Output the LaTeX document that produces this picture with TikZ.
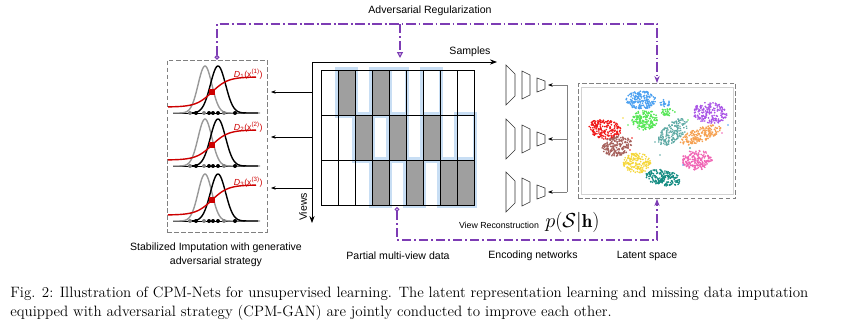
\documentclass[tikz,border=0pt]{standalone}
\usepackage{amsmath}
\usepackage{amsfonts}
\usepackage{fontspec}
\newfontfamily\arialfont{Liberation Sans}
\usepackage{tikz}
\usetikzlibrary{arrows.meta}
\definecolor{advpurple}{RGB}{125,60,180}
\definecolor{advred}{RGB}{205,0,0}
\definecolor{glowblue}{RGB}{200,222,244}
\definecolor{cRed}{RGB}{240,25,25}
\definecolor{cBrown}{RGB}{165,95,90}
\definecolor{cBlue}{RGB}{75,160,240}
\definecolor{cGreen}{RGB}{85,230,85}
\definecolor{cPurple}{RGB}{170,85,230}
\definecolor{cSage}{RGB}{95,170,165}
\definecolor{cOrange}{RGB}{245,160,80}
\definecolor{cPink}{RGB}{240,100,180}
\definecolor{cYellow}{RGB}{245,215,60}
\definecolor{cTeal}{RGB}{20,140,130}
\begin{document}
\begin{tikzpicture}[x=0.03cm, y=-0.03cm, line width=0.6pt,
    lbl/.style={font=\arialfont\fontsize{9}{12}\selectfont, inner sep=0pt},
    adv/.style={advpurple, line width=1pt, dash pattern=on 8pt off 2.5pt on 1.5pt off 2.5pt},
    dashbox/.style={draw=gray, line width=0.8pt, dash pattern=on 4pt off 2pt, inner sep=0pt}]
\useasboundingbox (0,0) rectangle (864,329);

% imputation panels
\node[dashbox, minimum width=3cm, minimum height=5.16cm] (impbox) at (217,146) {};
\foreach \by/\k in {113/1,166/2,221/3}{
    \draw[line width=0.8pt] (173,\by) -- (245,\by);
    \draw[gray!80, line width=1.2pt] plot[domain=-32:55, samples=80] ({205+\x}, {\by-47*exp(-\x*\x/95)});
    \draw[black, line width=1.2pt] plot[domain=-30:40, samples=80] ({218+\x}, {\by-47*exp(-\x*\x/115)});
    \draw[advred, line width=1.2pt] plot[domain=-44:44, samples=40] ({212+\x}, {\by-21-15*tanh(\x/16)});
    \fill[advred] (209,{\by-24}) rectangle ++(6,6);
    \foreach \dx/\dc in {190/gray,196/black,204/gray,209/black,213/black,218/black,224/gray,235/black}
        \fill[\dc] (\dx,\by) circle (1.7pt);
    \node[lbl, font=\arialfont\fontsize{7.5}{9}\selectfont, text=advred, anchor=east] (dlab\k) at (263,{\by-39})
        {\textit{D}\textsubscript{\k}(x\textsuperscript{(\k)})};
}

% axes
\coordinate (origin) at (312,62);
\coordinate (sampend) at (497,62);
\coordinate (viewend) at (312,223);
\draw[-{Stealth[length=6pt]}, line width=0.8pt] (origin) -- (sampend);
\draw[-{Stealth[length=6pt]}, line width=0.8pt] (origin) -- (viewend);
\node[lbl] (samples) at (470,52) {Samples};
\node[lbl, rotate=90] (views) at (303,207) {Views};
\foreach \ay [count=\k] in {92,137,188}{
    \coordinate (vw\k) at (312,\ay);
    \draw[-{Stealth[length=4pt]}] (vw\k) -- ([xshift=3pt]vw\k -| impbox.east);
}

% multi-view data
\foreach \r/\c in {1/2,1/4,1/5,1/7,2/3,2/5,2/7,2/9,3/4,3/6,3/8,3/9}
    \draw[glowblue, line width=3pt] ({320+17*(\c-1)},{69+45*(\r-1)}) rectangle ++(19,47);
\foreach \r/\c in {1/2,1/4,2/3,2/5,2/7,3/4,3/6,3/8,3/9}
    \fill[gray!75] ({321+17*(\c-1)},{70+45*(\r-1)}) rectangle ++(17,45);
\foreach \r in {1,2,3}
    \foreach \c in {1,...,9}
        \draw ({321+17*(\c-1)},{70+45*(\r-1)}) rectangle ++(17,45);

% encoders
\foreach \ey [count=\k] in {85,139,192}{
    \draw[black!80, line width=0.5pt] (506,\ey-20) -- (506,\ey+20) -- (515,\ey+11) -- (515,\ey-11) -- cycle;
    \draw[black!80, line width=0.5pt] (522,\ey-14) -- (522,\ey+14) -- (530,\ey+10) -- (530,\ey-10) -- cycle;
    \draw[black!80, line width=0.5pt] (537,\ey-7) -- (537,\ey+7) -- (545,\ey+4) -- (545,\ey-4) -- cycle;
    \coordinate (enc\k) at (548,\ey);
    \coordinate (bus\k) at (567,\ey);
    \draw[gray, -{Stealth[black, length=4pt]}] (bus\k) -- (enc\k);
}
\draw[gray] (bus1) -- (bus3);

% latent space
\node[dashbox, minimum width=4.73cm, minimum height=3.45cm] (latbox) at (657,141) {};
\draw[gray!35, line width=0.8pt] (581.7,87.3) rectangle (733,194);
\pgfmathsetseed{7}
\foreach \cx/\cy/\rx/\ry/\rot/\col/\n in {641/100/15/9/0/cBlue/180, 665/103/5/4/0/cBlue/20,
        645/120/13/10/0/cGreen/170, 668/112/7/4/0/cGreen/30, 710/113/17/11/-5/cPurple/200,
        605/129/16/10/-10/cRed/200, 617/146/15/10/10/cBrown/190, 673/132/18/9/40/cSage/190,
        700/135/22/7/20/cOrange/180, 697/160/15/10/0/cPink/190, 637/163/14/10/0/cYellow/170,
        663/178/18/8/-10/cTeal/190}{
    \begin{scope}[shift={(\cx,\cy)}, rotate=\rot]
        \foreach \i in {1,...,\n}{
            \pgfmathsetmacro\ang{360*rnd}
            \pgfmathsetmacro\rad{sqrt(rnd)}
            \fill[\col] ({\rad*\rx*cos(\ang)},{\rad*\ry*sin(\ang)}) circle (0.8pt);
        }
    \end{scope}
}
\foreach \sx/\sy/\sc in {623/118/cYellow,628/125/cGreen,632/138/cRed,655/142/cSage,690/148/cTeal,
        683/165/cBlue,660/155/cSage,688/120/cGreen,722/133/cPink,728/125/cBlue,630/150/cRed}
    \fill[\sc] (\sx,\sy) circle (0.8pt);

% adversarial regularization
\coordinate (advmid) at (400,24);
\coordinate (gridtop) at (400,58);
\node[lbl] (title) at (430,11) {Adversarial Regularization};
\draw[adv, {Circle[open, length=4pt]}-{Stealth[length=6pt]}] (impbox.north) |- (advmid) -| (latbox.north);
\draw[adv, -{Triangle[open, length=5pt, width=5pt]}] (advmid) -- (gridtop);
\coordinate (recstart) at (397,207);
\coordinate (recbot) at (397,240);
\draw[adv, {Circle[open, length=4pt]}-{Stealth[length=6pt]}] (recstart) -- (recbot) -| (latbox.south);

% labels
\node[lbl, font=\arialfont\fontsize{7.5}{9}\selectfont] (viewrec) at (499,225) {View Reconstruction};
\node[anchor=west, inner sep=0pt] (psh) at (545,222) {\fontsize{16}{18}\selectfont $p(\mathcal{S}|\mathbf{h})$};
\node[lbl, align=center] (implab) at (216,255) {Stabilized Imputation with generative\\adversarial strategy};
\node[lbl] (gridlab) at (398,256) {Partial multi-view data};
\node[lbl] (enclab) at (533,256) {Encoding networks};
\node[lbl] (latlab) at (647,256) {Latent space};
\node[anchor=north west, align=left, inner sep=0pt, font=\fontsize{12.8}{15.5}\selectfont] (caption) at (10,287)
    {Fig. 2: Illustration of CPM-Nets for unsupervised learning. The latent representation learning and missing data imputation\\
     equipped with adversarial strategy (CPM-GAN) are jointly conducted to improve each other.};
\end{tikzpicture}
\end{document}
